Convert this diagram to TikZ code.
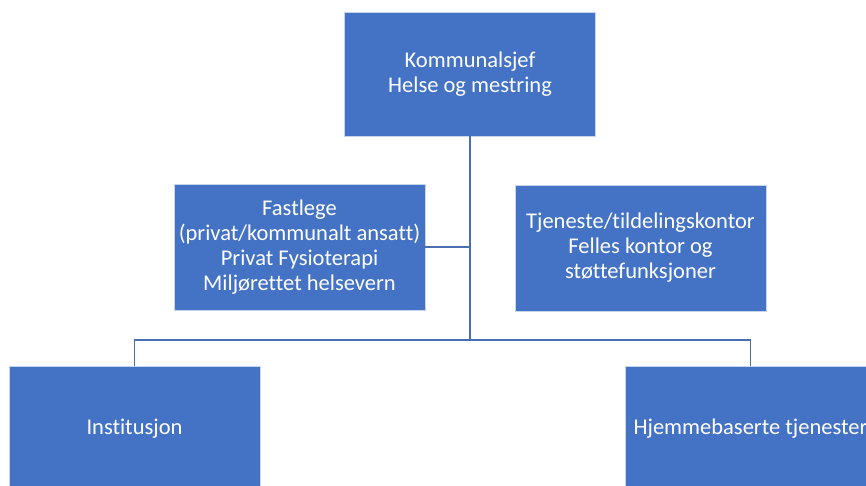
\documentclass[tikz,border=0pt]{standalone}
\usepackage{fontspec}
\setmainfont{Carlito}[Ligatures={NoCommon}]
\definecolor{boxblue}{HTML}{4472C4}
\definecolor{linkblue}{HTML}{4A6FB0}
\begin{document}
\begin{tikzpicture}[x=1pt,y=-1pt,
  orgbox/.style={draw=white!70!boxblue,line width=0.8pt,fill=boxblue,text=white,
    minimum width=251pt,minimum height=125pt,align=center,inner sep=0pt,
    font=\fontsize{22.5}{25}\selectfont},
  link/.style={draw=linkblue,line width=1.3pt}]
\useasboundingbox (0,0) rectangle (866,485);
\clip (0,0) rectangle (866,485);
\node[orgbox,minimum height=124pt] (top) at (470,74) {Kommunalsjef\\Helse og mestring};
\node[orgbox,minimum height=126pt] (left) at (299.5,247) {Fastlege\\(privat/kommunalt ansatt)\\Privat Fysioterapi\\Miljørettet helsevern};
\node[orgbox,minimum height=126pt] (right) at (640.5,248) {Tjeneste/tildelingskontor\\Felles kontor og\\støttefunksjoner};
\node[orgbox] (inst) at (134.5,428.5) {Institusjon};
\node[orgbox] (hjem) at (750.5,428.5) {Hjemmebaserte tjenester};
\coordinate (bus) at (470,340);
\draw[link] (top.south) -- (bus);
\draw[link] (left.east) -- (left.east -| top.south);
\draw[link] (inst.north) |- (bus);
\draw[link] (hjem.north) |- (bus);
\end{tikzpicture}
\end{document}
